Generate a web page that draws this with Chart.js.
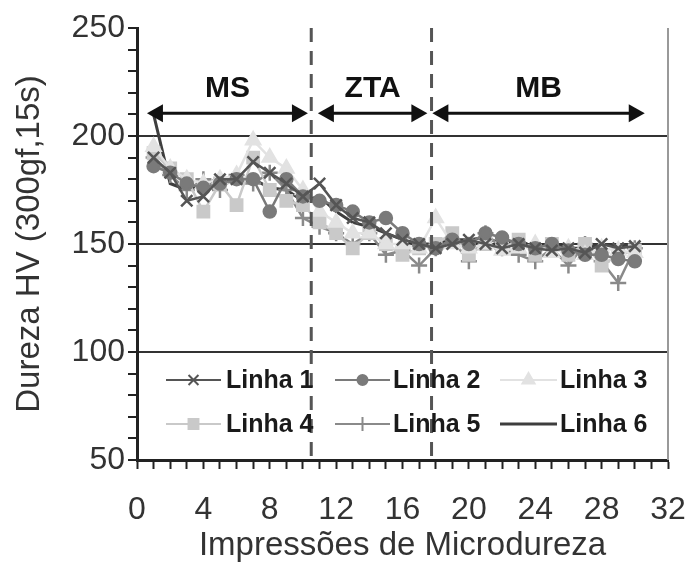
<!DOCTYPE html>
<html>
<head>
<meta charset="utf-8">
<script src="https://cdn.jsdelivr.net/npm/chart.js@4/dist/chart.umd.min.js"></script>
<style>
  html, body { margin: 0; padding: 0; background: #fff; }
  #wrap { width: 692px; height: 566px; }
</style>
</head>
<body>
<div id="wrap"><canvas id="durezaChart"></canvas></div>
<script>
const impressoes = [1,2,3,4,5,6,7,8,9,10,11,12,13,14,15,16,17,18,19,20,21,22,23,24,25,26,27,28,29,30];

const linha1 = [190,183,170,172,180,180,188,183,178,172,178,168,162,160,155,152,150,148,150,152,150,148,150,148,147,148,146,150,148,149];
const linha2 = [186,183,178,176,178,180,180,165,180,172,170,168,165,160,162,155,150,148,152,150,155,153,150,148,150,147,145,145,143,142];
const linha3 = [195,185,180,178,180,182,198,190,185,175,165,160,155,155,150,150,148,162,150,148,150,147,148,150,146,148,145,148,147,146];
const linha4 = [192,185,180,165,178,168,190,175,170,168,160,155,148,155,150,145,148,150,155,145,150,148,152,145,150,145,150,140,145,147];
const linha5 = [190,182,175,180,175,182,178,183,175,162,158,155,150,155,145,147,140,148,152,142,155,148,145,142,148,140,150,142,132,148];
const linha6 = [210,178,175,178,180,178,180,176,175,170,172,165,160,158,155,152,150,150,152,152,153,150,152,148,150,148,148,150,149,150];

// zone boundaries (x) and zone labels
const zoneLimits = [10.5, 17.75];
const zoneNames = ['MS', 'ZTA', 'MB'];
const zoneArrowFrom = [0.6, 10.9, 17.8];
const zoneArrowTo = [10.3, 17.5, 30.6];
const zoneArrowY = 210.5;
const zoneLabelY = 222;

const FONT = '"Liberation Sans", Arial, sans-serif';

const toPoints = (ys) => ys.map((y, i) => ({ x: impressoes[i], y: y }));

const series = [
  { label: 'Linha 1', data: linha1, color: '#555555', style: 'crossRot', radius: 8 },
  { label: 'Linha 2', data: linha2, color: '#7a7a7a', style: 'circle', radius: 6 },
  { label: 'Linha 3', data: linha3, color: '#e2e2e2', style: 'triangle', radius: 8 },
  { label: 'Linha 4', data: linha4, color: '#c9c9c9', style: 'rect', radius: 8 },
  { label: 'Linha 5', data: linha5, color: '#8a8a8a', style: 'cross', radius: 8 },
  { label: 'Linha 6', data: linha6, color: '#3e3e3e', style: false, radius: 0 }
];

const zonesPlugin = {
  id: 'zones',
  afterDraw(chart) {
    const { ctx, chartArea, scales } = chart;
    const x = scales.x, y = scales.y;
    ctx.save();
    // right frame
    ctx.strokeStyle = '#999';
    ctx.lineWidth = 2;
    ctx.beginPath();
    ctx.moveTo(chartArea.right, chartArea.top);
    ctx.lineTo(chartArea.right, chartArea.bottom);
    ctx.stroke();
    // dashed zone limits
    ctx.strokeStyle = '#555';
    ctx.lineWidth = 3;
    ctx.setLineDash([14, 9]);
    zoneLimits.forEach(v => {
      const px = x.getPixelForValue(v);
      ctx.beginPath();
      ctx.moveTo(px, chartArea.top);
      ctx.lineTo(px, chartArea.bottom);
      ctx.stroke();
    });
    ctx.setLineDash([]);
    // arrows
    const ay = y.getPixelForValue(zoneArrowY);
    ctx.strokeStyle = '#111';
    ctx.fillStyle = '#111';
    ctx.lineWidth = 3;
    zoneArrowFrom.forEach((from, i) => {
      const x1 = x.getPixelForValue(from);
      const x2 = x.getPixelForValue(zoneArrowTo[i]);
      ctx.beginPath();
      ctx.moveTo(x1 + 10, ay);
      ctx.lineTo(x2 - 10, ay);
      ctx.stroke();
      ctx.beginPath();
      ctx.moveTo(x1, ay);
      ctx.lineTo(x1 + 16, ay - 9);
      ctx.lineTo(x1 + 16, ay + 9);
      ctx.closePath();
      ctx.fill();
      ctx.beginPath();
      ctx.moveTo(x2, ay);
      ctx.lineTo(x2 - 16, ay - 9);
      ctx.lineTo(x2 - 16, ay + 9);
      ctx.closePath();
      ctx.fill();
      // label
      ctx.font = 'bold 30px ' + FONT;
      ctx.textAlign = 'center';
      ctx.textBaseline = 'middle';
      ctx.fillText(zoneNames[i], (x1 + x2) / 2, y.getPixelForValue(zoneLabelY));
    });
    ctx.restore();
  }
};

const legendPlugin = {
  id: 'innerLegend',
  afterDraw(chart) {
    const { ctx } = chart;
    const cols = [{ l: 166, r: 221, t: 226 }, { l: 335, r: 390, t: 393 }, { l: 500, r: 557, t: 560 }];
    const rows = [380, 424];
    ctx.save();
    series.forEach((s, i) => {
      const c = cols[i % 3];
      const ry = rows[Math.floor(i / 3)];
      ctx.strokeStyle = s.color;
      ctx.lineWidth = s.style ? 2 : 3;
      ctx.beginPath();
      ctx.moveTo(c.l, ry);
      ctx.lineTo(c.r, ry);
      ctx.stroke();
      if (s.style) {
        ctx.fillStyle = s.color;
        ctx.strokeStyle = s.color;
        ctx.beginPath();
        Chart.helpers.drawPoint(ctx, {
          pointStyle: s.style, radius: s.radius - 1, borderWidth: 2, rotation: 0
        }, (c.l + c.r) / 2, ry);
      }
      ctx.fillStyle = '#1a1a1a';
      ctx.font = 'bold 25px ' + FONT;
      ctx.textAlign = 'left';
      ctx.textBaseline = 'middle';
      ctx.fillText(s.label, c.t, ry + 1);
    });
    ctx.restore();
  }
};

new Chart(document.getElementById('durezaChart'), {
  type: 'line',
  data: {
    datasets: series.map(s => ({
      label: s.label,
      data: toPoints(s.data),
      borderColor: s.color,
      backgroundColor: s.color,
      borderWidth: s.style ? 2.5 : 3,
      pointStyle: s.style,
      pointRadius: s.radius,
      pointBorderWidth: 2.5,
      tension: 0
    }))
  },
  options: {
    responsive: true,
    maintainAspectRatio: false,
    animation: false,
    layout: { padding: { left: 10, right: 24, top: 28, bottom: 0 } },
    plugins: {
      legend: { display: false },
      tooltip: { enabled: false }
    },
    scales: {
      x: {
        type: 'linear',
        min: 0,
        max: 32,
        afterFit: (s) => { s.height = 106; s.paddingLeft = 0; s.paddingRight = 0; },
        ticks: {
          stepSize: 1,
          autoSkip: false,
          maxRotation: 0,
          padding: 22,
          color: '#333',
          font: { family: FONT, size: 32 },
          callback: (v) => (v % 4 === 0 ? v : '')
        },
        grid: {
          drawOnChartArea: false,
          tickLength: 9,
          tickWidth: 2,
          tickColor: '#222'
        },
        border: { color: '#222', width: 3 },
        title: {
          display: true,
          text: 'Impressões de Microdureza',
          color: '#333',
          font: { family: FONT, size: 33 },
          padding: { top: 0, bottom: 0 }
        }
      },
      y: {
        min: 50,
        max: 250,
        afterFit: (s) => { s.width = 127; s.paddingTop = 0; s.paddingBottom = 0; },
        ticks: {
          stepSize: 10,
          autoSkip: false,
          padding: 3,
          color: '#333',
          font: { family: FONT, size: 32 },
          callback: (v) => (v % 50 === 0 ? v : '')
        },
        grid: {
          color: (c) => ([100, 150, 200].includes(c.tick && c.tick.value) ? '#333' : 'rgba(0,0,0,0)'),
          lineWidth: 2,
          tickLength: 9,
          tickWidth: 2,
          tickColor: '#222'
        },
        border: { color: '#222', width: 3 },
        title: {
          display: true,
          text: 'Dureza HV (300gf,15s)',
          color: '#333',
          font: { family: FONT, size: 33 },
          padding: { top: 0, bottom: 0 }
        }
      }
    }
  },
  plugins: [zonesPlugin, legendPlugin]
});
</script>
</body>
</html>
